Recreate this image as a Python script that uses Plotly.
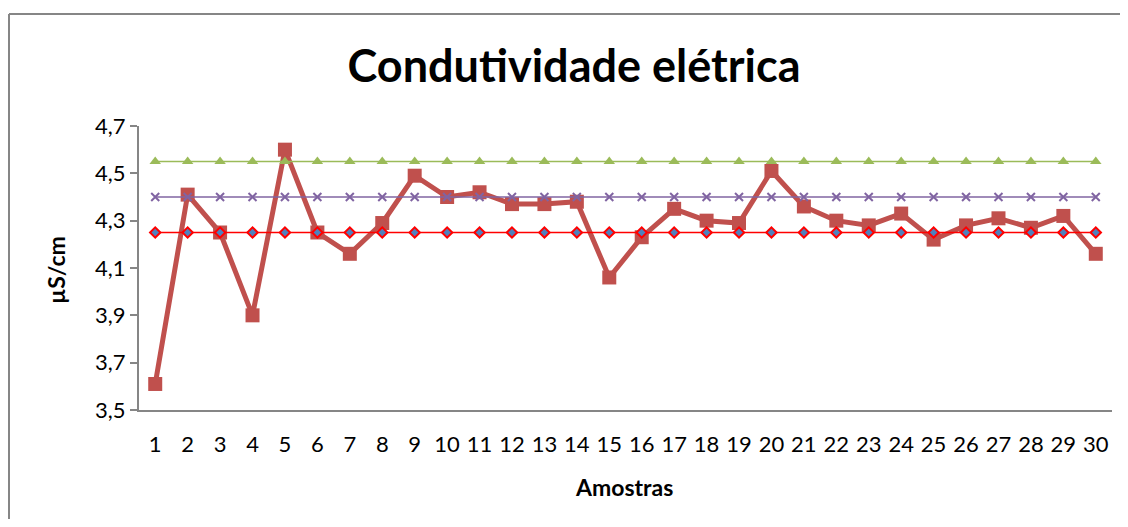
import plotly.graph_objects as go

amostras = list(range(1, 31))
condutividade = [3.61, 4.41, 4.25, 3.90, 4.60, 4.25, 4.16, 4.29, 4.49, 4.40,
                 4.42, 4.37, 4.37, 4.38, 4.06, 4.23, 4.35, 4.30, 4.29, 4.51,
                 4.36, 4.30, 4.28, 4.33, 4.22, 4.28, 4.31, 4.27, 4.32, 4.16]
linha_inferior = [4.25] * 30
linha_media = [4.40] * 30
linha_superior = [4.55] * 30
y_ticks = [3.5, 3.7, 3.9, 4.1, 4.3, 4.5, 4.7]

fig = go.Figure()
fig.add_trace(go.Scatter(x=amostras, y=condutividade, mode="lines+markers",
                         line=dict(color="#C0504D", width=5),
                         marker=dict(symbol="square", size=14, color="#C0504D"),
                         cliponaxis=False))
fig.add_trace(go.Scatter(x=amostras, y=linha_superior, mode="lines+markers",
                         line=dict(color="#9BBB59", width=1.5),
                         marker=dict(symbol="triangle-up", size=10, color="#9BBB59"),
                         cliponaxis=False))
fig.add_trace(go.Scatter(x=amostras, y=linha_media, mode="lines+markers",
                         line=dict(color="#8064A2", width=1.5),
                         marker=dict(symbol="x-thin", size=8, color="#8064A2",
                                     line=dict(color="#8064A2", width=2)),
                         cliponaxis=False))
fig.add_trace(go.Scatter(x=amostras, y=linha_inferior, mode="lines+markers",
                         line=dict(color="#FF0000", width=1.5),
                         marker=dict(symbol="diamond", size=8, color="#4F81BD",
                                     line=dict(color="#FF0000", width=2)),
                         cliponaxis=False))

# page has an 8px body margin; figure coords = page coords - 8
OFF = 8
W, H = 1112, 511
L, T = 139 - OFF, 126 - OFF
R = W - (1112 - OFF)
B = H - (410 - OFF)
pw, ph = W - L - R, H - T - B


def px_x(p):
    return (p - OFF - L) / pw


def px_y(p):
    return (H - B - (p - OFF)) / ph


FONT = "Lato, Open Sans, sans-serif"
BORDER = dict(color="#868686", width=2)

fig.update_layout(
    width=W, height=H,
    margin=dict(l=L, r=R, t=T, b=B),
    paper_bgcolor="white", plot_bgcolor="white",
    showlegend=False,
    separators=",.",
    font=dict(family=FONT, color="black"),
    title=dict(text="<b>Condutividade elétrica</b>", x=px_x(574), xanchor="center",
               xref="paper",
               y=1 - (66 - OFF) / H, yanchor="middle",
               font=dict(size=45, family=FONT, color="black")),
    xaxis=dict(range=[0.5, 30.5], tickmode="array", tickvals=amostras,
               ticktext=[str(a) for a in amostras],
               showline=True, linecolor="#868686", linewidth=2,
               ticks="", showgrid=False, zeroline=False,
               ticklabelstandoff=14,
               tickfont=dict(size=22)),
    yaxis=dict(range=[3.5, 4.7], tickmode="array", tickvals=y_ticks,
               tickformat=".1f",
               showline=True, linecolor="#868686", linewidth=2,
               ticks="outside", ticklen=7, tickcolor="#868686", tickwidth=2,
               showgrid=False, zeroline=False,
               tickfont=dict(size=22)),
    annotations=[
        dict(text="<b>Amostras</b>", xref="paper", yref="paper",
             x=px_x(624), y=px_y(487), xanchor="center", yanchor="middle",
             showarrow=False, font=dict(size=23, family=FONT)),
        dict(text="<b>µS/cm</b>", xref="paper", yref="paper",
             x=px_x(56), y=px_y(270), xanchor="center", yanchor="middle",
             textangle=-90, showarrow=False, font=dict(size=23, family=FONT)),
    ],
    shapes=[
        dict(type="line", xref="paper", yref="paper",
             x0=px_x(9), x1=px_x(9), y0=px_y(14), y1=px_y(520), line=BORDER),
        dict(type="line", xref="paper", yref="paper",
             x0=px_x(9), x1=px_x(1121), y0=px_y(14), y1=px_y(14), line=BORDER),
    ],
)

fig.write_html("out.html")
